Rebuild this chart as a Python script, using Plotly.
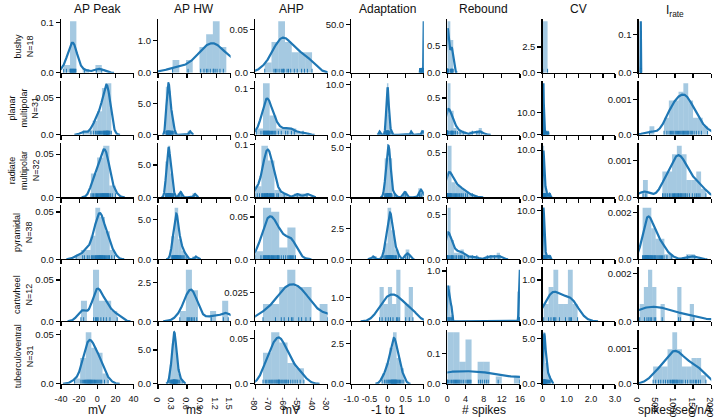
import numpy as np
import plotly.graph_objects as go

# ---------------- data ----------------
FEATURES = ["AP Peak", "AP HW", "AHP", "Adaptation", "Rebound", "CV", "I<sub>rate</sub>"]
UNITS = ["mV", "ms", "mV", "-1 to 1", "# spikes", "", "spikes/sec/nA"]
CELL_LABELS = ["bushy", "planar<br>multipolar", "radiate<br>multipolar", "pyramidal", "cartwheel", "tuberculoventral"]
N_CELLS = [18, 31, 32, 38, 12, 31]

X_RANGES = [[-40, 40], [0, 1.5], [-80, -30], [-1, 1], [0, 16], [0, 3], [0, 2000]]
X_TICKVALS = [[-40, -20, 0, 20, 40], [0, 0.3, 0.6, 0.9, 1.2, 1.5], [-80, -70, -60, -50, -40, -30],
              [-1, -0.5, 0, 0.5, 1], [0, 4, 8, 12, 16], [0, 1, 2, 3], [0, 500, 1000, 1500, 2000]]
X_TICKTEXT = [["-40", "-20", "0", "20", "40"], ["0", "0.3", "0.6", "0.9", "1.2", "1.5"],
              ["-80", "-70", "-60", "-50", "-40", "-30"], ["-1.0", "-0.5", "0", "0.5", "1.0"],
              ["0", "4", "8", "12", "16"], ["0", "1.0", "2.0", "3.0"],
              ["0", "500", "1000", "1500", "2000"]]
X_MINOR = [None, None, None, None, None, [0.5, 1.5, 2.5], None]

Y_TICKS = [["0.1", "1.0", "0.05", "50.0", "0.5", "2.5", "0.1"],
           ["0.05", "5.0", "0.1", "10.0", "0.5", "10.0", "0.001"],
           ["0.05", "5.0", "0.1", "5.0", "0.5", "10.0", "0.001"],
           ["0.05", "5.0", "0.05", "2.5", "0.5", "10.0", "0.002"],
           ["0.05", "2.5", "0.025", "1.0", "1.0", "1.0", "0.002"],
           ["0.05", "5.0", "0.05", "2.5", "0.1", "5.0", "0.001"]]

# bushy
bushy_ap_peak = [-37, -34, -30, -29.5, -29, -28.5, -28, -27.5, -27, -26.5, -26, -25.5, -25, -24, -23.5, -14, -1, 5]
bushy_ap_hw = [0.3, 0.62, 0.88, 0.95, 1.0, 1.03, 1.08, 1.14, 1.15, 1.18, 1.22, 1.28, 1.35, 1.6, 1.75, 1.95, 2.3, 2.8]
bushy_ahp = [-73.4, -67, -66, -65, -63.5, -62, -61, -60.5, -60, -58, -57, -55.5, -53, -51, -48, -46, -44, -40.8]
bushy_adapt = [0.9, 0.93, 0.945, 0.985, 0.988, 0.99, 0.992, 0.994, 0.995, 0.996, 0.997, 0.998, 0.998, 0.999, 0.999, 1.0, 1.0, 1.0]
bushy_rebound = [0, 0, 0, 0, 0, 0, 0, 0.05, 0.1, 0.2, 0.35, 0.7, 0.8, 0.9, 1.0, 1.05, 1.1, 1.3]
bushy_cv = [0.01, 0.21]
bushy_irate = [52, 55, 56.5, 57.5, 58, 58.5, 59, 59.3, 59.6, 60, 60.3, 60.6, 61, 61.5, 62, 63, 64.5, 68]

# planar multipolar
planar_ap_peak = [-15.5, -7, -4, -2, -0.5, 0.5, 1.5, 2.5, 3.5, 4.5, 5.5, 6.5, 7, 7.5, 8, 8.5, 9, 9.5, 9.8, 10.2,
                  10.5, 10.8, 11, 11.3, 11.6, 12, 12.4, 12.8, 13.3, 14, 15.5]
planar_ap_hw = [0.16, 0.17, 0.175, 0.18, 0.185, 0.19, 0.195, 0.2, 0.2, 0.205, 0.21, 0.21, 0.215, 0.22, 0.22, 0.225,
                0.23, 0.23, 0.235, 0.24, 0.245, 0.25, 0.255, 0.26, 0.27, 0.28, 0.29, 0.3, 0.31, 0.33, 0.66]
planar_ahp = [-79.2, -76, -74.5, -74.2, -73.9, -73.6, -73.3, -73, -72.7, -72.4, -72.1, -71.8, -71.5, -71.2, -70.9,
              -70.6, -70.4, -70.2, -69.5, -68.7, -68, -67.2, -66.5, -65.8, -64, -62, -59, -57.5, -55, -53, -47]
planar_adapt = [-0.22, -0.06, -0.04, -0.035, -0.03, -0.025, -0.02, -0.02, -0.015, -0.01, -0.01, -0.005, 0, 0, 0,
                0.005, 0.01, 0.01, 0.015, 0.02, 0.02, 0.025, 0.03, 0.035, 0.04, 0.05, 0.07, 0.1, 0.65, 0.95, 1.0]
planar_rebound = [0, 0, 0, 0, 0, 0, 0, 0, 0, 0, 0, 0, 0, 0.2, 0.4, 0.75, 0.8, 0.9, 1.0, 1.1, 1.2, 1.3, 1.5, 1.8,
                  2.2, 2.8, 3.5, 5.5, 6.5, 7.0, 7.6]
planar_cv = [0.015, 0.02, 0.025, 0.028, 0.03, 0.032, 0.033, 0.035, 0.036, 0.037, 0.038, 0.039, 0.04, 0.04, 0.041,
             0.042, 0.043, 0.045, 0.046, 0.048, 0.05, 0.053, 0.056, 0.06, 0.065, 0.075, 0.09, 0.11, 0.14, 0.18, 0.23]
planar_irate = [300, 700, 780, 840, 880, 910, 940, 970, 1010, 1040, 1070, 1100, 1130, 1160, 1190, 1215, 1235, 1260,
                1285, 1310, 1335, 1355, 1380, 1420, 1450, 1480, 1530, 1590, 1660, 1730, 1900]

# radiate multipolar
radiate_ap_peak = [-7, -5.5, -4, -2.5, -1.5, -0.8, 0.3, 1.2, 2, 2.8, 3.5, 4.2, 4.8, 5.4, 5.9, 6.3, 6.8, 7.3, 7.8,
                   8.3, 8.8, 9.3, 9.8, 10.3, 10.8, 11.3, 11.9, 12.5, 13.1, 14.5, 16.5, 20.2]
radiate_ap_hw = [0.15, 0.16, 0.17, 0.18, 0.185, 0.19, 0.195, 0.2, 0.2, 0.205, 0.21, 0.21, 0.215, 0.22, 0.22, 0.225,
                 0.23, 0.23, 0.235, 0.24, 0.245, 0.25, 0.255, 0.26, 0.27, 0.28, 0.29, 0.3, 0.32, 0.45, 0.48, 0.76]
radiate_ahp = [-80.2, -78.5, -77, -75.5, -75, -74.5, -74, -73.6, -73.2, -72.8, -72.4, -72, -71.8, -71.6, -71.4,
               -71.3, -71.25, -70.6, -70.2, -69.8, -69.4, -69, -68.6, -68.2, -67.8, -67.4, -67, -65, -64, -60, -51, -44.2]
radiate_adapt = [-0.08, -0.06, -0.045, -0.035, -0.025, -0.018, -0.01, -0.005, 0, 0.005, 0.01, 0.015, 0.02, 0.025,
                 0.03, 0.035, 0.04, 0.045, 0.05, 0.055, 0.06, 0.07, 0.08, 0.09, 0.1, 0.12, 0.2, 0.45, 0.5, 0.88, 0.92, 0.95]
radiate_rebound = [0, 0, 0, 0, 0, 0, 0, 0, 0.1, 0.2, 0.3, 0.4, 0.5, 0.6, 0.7, 0.8, 0.85, 1.0, 1.2, 1.4, 1.6, 1.8,
                   2.0, 2.2, 2.5, 2.7, 3.0, 3.2, 3.5, 4.0, 4.4, 5.5]
radiate_cv = [0.01, 0.015, 0.02, 0.022, 0.025, 0.028, 0.03, 0.032, 0.034, 0.036, 0.038, 0.04, 0.042, 0.044, 0.046,
              0.048, 0.05, 0.053, 0.056, 0.06, 0.065, 0.07, 0.08, 0.09, 0.1, 0.11, 0.12, 0.14, 0.16, 0.19, 0.27, 0.31]
radiate_irate = [120, 200, 660, 700, 750, 800, 850, 890, 930, 960, 990, 1010, 1035, 1060, 1080, 1100, 1120, 1150,
                 1170, 1190, 1220, 1250, 1280, 1300, 1340, 1400, 1480, 1550, 1600, 1640, 1690, 1855]

# pyramidal
pyr_ap_peak = [-23.3, -16, -14, -11, -9, -6.5, -5.5, -4.5, -3.5, -2.5, -1.8, -1.2, -0.6, 0, 0.5, 1, 1.5, 2, 2.4, 2.8,
               3.1, 3.5, 4, 4.5, 5, 5.5, 6, 6.6, 7.2, 8, 9, 10, 11, 12, 12.8, 13.5, 16, 19.1]
pyr_ap_hw = [0.27, 0.29, 0.3, 0.31, 0.32, 0.33, 0.335, 0.34, 0.345, 0.35, 0.355, 0.36, 0.365, 0.37, 0.37, 0.375,
             0.38, 0.38, 0.385, 0.39, 0.39, 0.395, 0.4, 0.405, 0.41, 0.415, 0.42, 0.43, 0.44, 0.45, 0.46, 0.47, 0.48,
             0.5, 0.52, 0.54, 0.58, 0.78]
pyr_ahp = [-80.2, -76, -74.4, -74, -73.6, -73.2, -72.8, -72.4, -72, -71.6, -71.2, -70.8, -70.4, -70, -69.6, -68.9,
           -68.6, -68, -67.4, -66.8, -66.2, -65.6, -65, -64.6, -64.2, -63.8, -63.5, -62, -60.5, -59, -57.5, -56.8,
           -56.2, -55.6, -55, -54.2, -53.4, -52.2]
pyr_adapt = [-0.4, -0.1, -0.07, -0.05, -0.03, -0.02, -0.01, 0, 0.01, 0.02, 0.03, 0.04, 0.045, 0.05, 0.055, 0.06,
             0.065, 0.07, 0.075, 0.08, 0.085, 0.09, 0.095, 0.1, 0.11, 0.12, 0.13, 0.14, 0.15, 0.16, 0.18, 0.2, 0.22,
             0.25, 0.3, 0.5, 0.55, 0.6]
pyr_rebound = [0, 0, 0, 0, 0, 0, 0, 0, 0, 0, 0, 0, 0.1, 0.2, 0.4, 0.6, 0.8, 0.9, 1.0, 1.1, 1.2, 1.4, 1.7, 2.0, 2.4,
               2.6, 2.9, 3.1, 3.4, 3.8, 4.6, 5.5, 6.5, 8.8, 9.6, 10.4, 11.2, 11.6]
pyr_cv = [0.005, 0.01, 0.015, 0.018, 0.02, 0.022, 0.025, 0.027, 0.03, 0.032, 0.034, 0.036, 0.038, 0.04, 0.042,
          0.044, 0.046, 0.048, 0.05, 0.052, 0.055, 0.058, 0.06, 0.063, 0.066, 0.07, 0.074, 0.078, 0.083, 0.09, 0.1,
          0.11, 0.12, 0.14, 0.17, 0.22, 0.27, 0.32]
pyr_irate = [110, 130, 150, 165, 180, 190, 200, 210, 220, 228, 235, 245, 255, 265, 275, 290, 305, 320, 335, 345,
             360, 380, 400, 420, 440, 460, 480, 510, 540, 570, 600, 630, 660, 700, 780, 900, 1350, 1550]

# cartwheel
cart_ap_peak = [-18, -15, -4, -2, -1, 0, 1, 4, 7, 10, 14, 22]
cart_ap_hw = [0.45, 0.6, 0.62, 0.64, 0.66, 0.69, 0.72, 0.75, 0.8, 1.1, 1.35, 1.45]
cart_ahp = [-74.6, -66, -62, -60, -57, -55, -54, -50, -48, -45, -42, -30]
cart_adapt = [-0.22, -0.15, -0.05, 0.02, 0.08, 0.15, 0.25, 0.28, 0.32, 0.5, 0.6, 0.7]
cart_rebound = [0, 0.1, 0.2, 0.35, 0.5, 0.65, 0.9, 15.8, 15.9, 16.0, 16.0, 16.1]
cart_cv = [0.05, 0.25, 0.35, 0.45, 0.5, 0.55, 0.7, 0.95, 1.1, 1.15, 1.2, 1.45]
cart_irate = [30, 160, 230, 280, 320, 360, 430, 470, 650, 1100, 1150, 1525]

# tuberculoventral
tv_ap_peak = [-25, -18, -16.5, -15, -14, -13, -12.3, -11.6, -11, -10.4, -9.8, -9.2, -8.6, -8, -7.4, -6.8, -6.2,
              -5.4, -4.6, -3.8, -3, -2, -1, 0, 1, 2, 3, 4, 5, 8, 12]
tv_ap_hw = [0.24, 0.26, 0.27, 0.28, 0.29, 0.3, 0.305, 0.31, 0.315, 0.32, 0.32, 0.325, 0.33, 0.33, 0.335, 0.34, 0.34,
            0.345, 0.35, 0.355, 0.36, 0.365, 0.37, 0.375, 0.38, 0.39, 0.4, 0.41, 0.43, 0.45, 0.5]
tv_ahp = [-74.6, -73, -72, -71, -70, -69.2, -68.5, -67.8, -67, -66.3, -65.6, -65, -64.4, -63.9, -63.6, -63.4, -63,
          -62.2, -61.5, -60.8, -60, -59.3, -58.6, -58, -57, -55.5, -54, -52.5, -51, -49, -46.4]
tv_adapt = [-0.15, -0.08, -0.04, -0.01, 0.02, 0.04, 0.06, 0.08, 0.1, 0.11, 0.12, 0.13, 0.14, 0.15, 0.16, 0.17, 0.18,
            0.19, 0.2, 0.21, 0.22, 0.23, 0.24, 0.25, 0.27, 0.29, 0.31, 0.33, 0.36, 0.4, 0.45]
tv_rebound = [0, 0, 0, 0.3, 0.6, 0.9, 1.2, 1.4, 1.6, 1.8, 2.0, 2.2, 2.4, 2.6, 2.8, 3.2, 3.6, 4.1, 4.4, 4.6, 4.8, 5.0,
              5.2, 6.9, 7.3, 7.7, 8.2, 8.6, 9.0, 11.2, 16]
tv_cv = [0.0, 0.01, 0.02, 0.03, 0.035, 0.04, 0.045, 0.05, 0.055, 0.06, 0.065, 0.07, 0.075, 0.08, 0.085, 0.09, 0.095,
         0.1, 0.105, 0.11, 0.12, 0.13, 0.14, 0.15, 0.16, 0.18, 0.2, 0.22, 0.25, 0.29, 0.34]
tv_irate = [400, 470, 550, 610, 680, 740, 800, 840, 880, 915, 935, 960, 985, 1005, 1030, 1050, 1075, 1110, 1140,
            1175, 1220, 1290, 1350, 1420, 1470, 1520, 1570, 1600, 1650, 1700, 1855]

DATA = [
    [bushy_ap_peak, bushy_ap_hw, bushy_ahp, bushy_adapt, bushy_rebound, bushy_cv, bushy_irate],
    [planar_ap_peak, planar_ap_hw, planar_ahp, planar_adapt, planar_rebound, planar_cv, planar_irate],
    [radiate_ap_peak, radiate_ap_hw, radiate_ahp, radiate_adapt, radiate_rebound, radiate_cv, radiate_irate],
    [pyr_ap_peak, pyr_ap_hw, pyr_ahp, pyr_adapt, pyr_rebound, pyr_cv, pyr_irate],
    [cart_ap_peak, cart_ap_hw, cart_ahp, cart_adapt, cart_rebound, cart_cv, cart_irate],
    [tv_ap_peak, tv_ap_hw, tv_ahp, tv_adapt, tv_rebound, tv_cv, tv_irate],
]

# histogram bin counts / kde settings
BINS = [[6, 18, 7, 4, 2, 1, 4],
        [6, 10, 7, 30, 11, 8, 12],
        [4, 12, 8, 10, 6, 5, 13],
        [8, 7, 5, 10, 16, 6, 12],
        [6, 8, 8, 8, 23, 7, 13],
        [6, 6, 5, 6, 12, 3, 11]]
BW_OVERRIDE = {(0, 0): 4.5, (3, 4): 0.6, (4, 4): 0.12, (4, 6): 500, (5, 4): 9}
NO_KDE = {(0, 5)}

# ---------------- style / layout ----------------
W, H = 727, 420
COL_X0 = [54, 153, 252, 350, 448, 545, 643]
COL_W = 74
ROW_Y0 = [14, 77.5, 141.5, 205, 268.5, 332.5]
ROW_H = 55.5
LINE_COLOR = "#1f77b4"
BAR_COLOR = "rgba(31,119,180,0.4)"
FONT = "Liberation Sans, Arial, sans-serif"
TXT = "#111111"


def kde(vals, bw=None):
    x = np.asarray(vals, float)
    n = x.size
    if bw is None:
        sd = x.std(ddof=1)
        q75, q25 = np.percentile(x, [75, 25])
        iqr = (q75 - q25) / 1.349
        a = min(sd, iqr) if iqr > 0 else sd
        bw = 1.059 * a * n ** (-0.2)
    grid = np.linspace(x.min() - 3 * bw, x.max() + 3 * bw, 800)
    z = (grid[:, None] - x[None, :]) / bw
    dens = np.exp(-0.5 * z * z).sum(axis=1) / (n * bw * np.sqrt(2 * np.pi))
    return grid, dens


fig = go.Figure()
layout = {}
k = 0
for i in range(6):
    for j in range(7):
        k += 1
        xn = "x" if k == 1 else f"x{k}"
        yn = "y" if k == 1 else f"y{k}"
        vals = np.asarray(DATA[i][j], float)
        dens, edges = np.histogram(vals, bins=BINS[i][j], density=True)
        centers = (edges[:-1] + edges[1:]) / 2
        widths = np.diff(edges)
        ymax = dens.max()
        fig.add_trace(go.Bar(x=centers, y=dens, width=widths,
                             marker=dict(color=BAR_COLOR, line=dict(width=0)),
                             xaxis=xn, yaxis=yn, hoverinfo="skip"))
        if (i, j) not in NO_KDE:
            gx, gy = kde(vals, BW_OVERRIDE.get((i, j)))
            ymax = max(ymax, gy.max())
            fig.add_trace(go.Scatter(x=gx, y=gy, mode="lines",
                                     line=dict(color=LINE_COLOR, width=2.2),
                                     xaxis=xn, yaxis=yn, hoverinfo="skip"))
        ymax *= 1.05
        rx, ry = [], []
        for v in vals:
            rx += [v, v, None]
            ry += [0, 0.075 * ymax, None]
        fig.add_trace(go.Scatter(x=rx, y=ry, mode="lines",
                                 line=dict(color=LINE_COLOR, width=1),
                                 xaxis=xn, yaxis=yn, hoverinfo="skip"))

        x0 = COL_X0[j]
        y0 = ROW_Y0[i]
        bottom = (i == 5)
        xa = dict(
            domain=[x0 / W, (x0 + COL_W) / W], range=X_RANGES[j], anchor=yn,
            showline=True, linecolor="black", linewidth=1.2, mirror=False,
            ticks="outside", ticklen=4, tickwidth=1.2, tickcolor="black",
            tickmode="array", tickvals=X_TICKVALS[j], ticktext=X_TICKTEXT[j], showticklabels=bottom,
            ticklabelstandoff=2,
            showgrid=False, zeroline=False,
            tickfont=dict(family=FONT, size=9, color=TXT))
        if X_MINOR[j]:
            xa["minor"] = dict(tickmode="array", tickvals=X_MINOR[j], ticks="outside", ticklen=4,
                               tickwidth=1.2, tickcolor="black", showgrid=False)
        layout["xaxis" + ("" if k == 1 else str(k))] = xa
        tval = float(Y_TICKS[i][j])
        layout["yaxis" + ("" if k == 1 else str(k))] = dict(
            domain=[1 - (y0 + ROW_H) / H, 1 - y0 / H], range=[0, ymax], anchor=xn,
            showline=True, linecolor="black", linewidth=1.2, mirror=False,
            ticks="outside", ticklen=4, tickwidth=1.2, tickcolor="black",
            tickvals=[0, tval], ticktext=["0.0", Y_TICKS[i][j]],
            showgrid=False, zeroline=False,
            tickfont=dict(family=FONT, size=9.5, color=TXT))

annotations = []
for j in range(7):
    cx = (COL_X0[j] + COL_W / 2) / W
    title_bottom = 16.5 if "<sub>" in FEATURES[j] else 13.5
    annotations.append(dict(text=FEATURES[j], x=cx, y=1 - title_bottom / H, xref="paper", yref="paper",
                            xanchor="center", yanchor="bottom", showarrow=False,
                            font=dict(family=FONT, size=12, color=TXT)))
    if UNITS[j]:
        annotations.append(dict(text=UNITS[j], x=cx, y=1 - 405.5 / H, xref="paper", yref="paper",
                                xanchor="center", yanchor="top", showarrow=False,
                                font=dict(family=FONT, size=12, color=TXT)))
for i in range(6):
    cy = 1 - (ROW_Y0[i] + ROW_H / 2) / H
    annotations.append(dict(text=f"{CELL_LABELS[i]}<br>N={N_CELLS[i]}", x=16 / W, y=cy,
                            xref="paper", yref="paper", xanchor="center", yanchor="middle",
                            textangle=-90, showarrow=False,
                            font=dict(family=FONT, size=9, color=TXT)))

fig.update_layout(width=W, height=H, margin=dict(l=0, r=0, t=0, b=0),
                  paper_bgcolor="white", plot_bgcolor="white", showlegend=False,
                  barmode="overlay", hovermode=False, annotations=annotations, **layout)
fig.write_html("out.html", config={"displayModeBar": False, "staticPlot": True},
               post_script="document.body.style.margin='0px';document.body.style.padding='0px';")
